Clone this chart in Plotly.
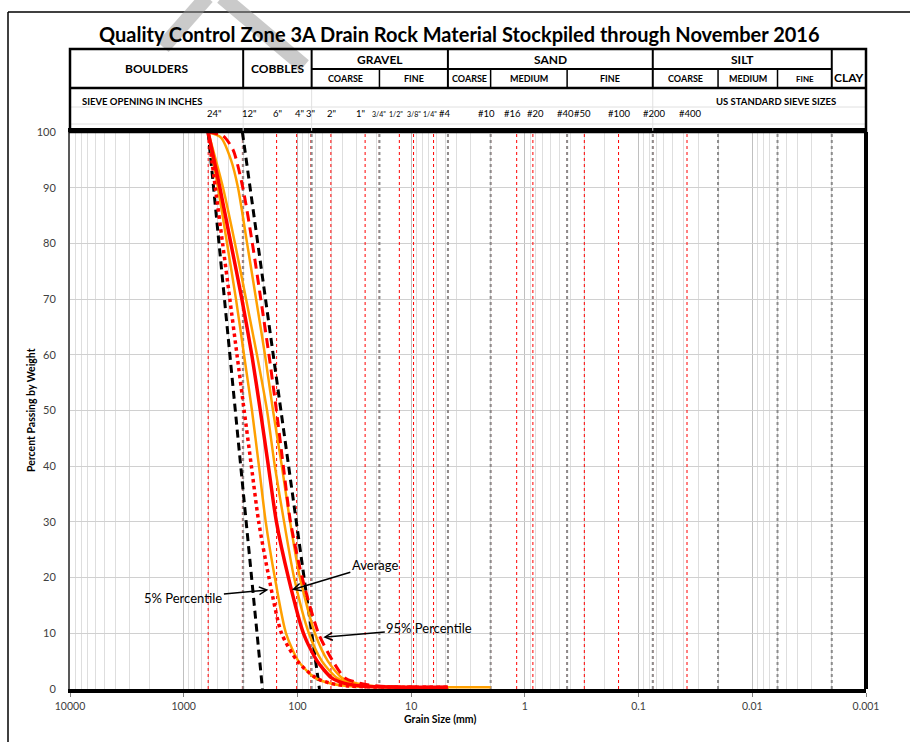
import numpy as np
import plotly.graph_objects as go

# ---------------- DATA ----------------
# US standard sieve openings (mm) and their header labels
sieve_mm = [609.6, 304.8, 152.4, 101.6, 76.2, 50.8, 25.4, 19.05, 12.7, 9.525, 6.35,
            4.75, 2.0, 1.18, 0.85, 0.425, 0.3, 0.15, 0.075, 0.0375]
sieve_labels = ['24"', '12"', '6"', '4"', '3"', '2"', '1"', '3/4"', '1/2"', '3/8"', '1/4"',
                '#4', '#10', '#16', '#20', '#40', '#50', '#100', '#200', '#400']

# soil-class boundaries (mm)
boundary_mm = [300, 75, 19, 4.75, 2.0, 0.425, 0.075, 0.02, 0.006, 0.002]

# x-axis decade ticks
decade_vals = [10000, 1000, 100, 10, 1, 0.1, 0.01, 0.001]
decade_labels = ['10000', '1000', '100', '10', '1', '0.1', '0.01', '0.001']

# specification envelope (black dashed)
env_coarse_mm = [609.6, 203]
env_coarse_pct = [100, 0]
env_fine_mm = [304.8, 64]
env_fine_pct = [100, 0]

# gradation curves: percent passing vs grain size (mm)
pct_std = [100, 90, 80, 70, 60, 50, 40, 30, 20, 10, 5, 2, 1, 0.5, 0.3]
avg_mm = [609.6, 481, 385, 308, 252, 212, 180, 153, 120, 88.5, 67, 50, 38.5, 26.0, 4.75]
p5_mm = [609.6, 527, 455, 393, 340, 294, 254, 219, 178, 138, 100, 68.8, 50.8, 33.9, 4.75]

pct_p95 = [100, 99.3, 96.8, 90, 80, 70, 60, 50, 40, 30, 20, 10, 5, 2, 1, 0.5, 0.3]
p95_mm = [609.6, 451, 368, 302, 249, 210, 178, 153, 133, 115, 90.8, 65.3, 48.8, 38.3, 27.7, 18.5, 4.75]

pct_s1 = [100, 90, 80, 70, 60, 50, 40, 30, 20, 10, 5, 2, 1, 0.5, 0.3]
s1_mm = [609.6, 499, 416, 347, 295, 251, 218, 190, 158, 126, 98, 70, 50.8, 33.9, 4.75]

pct_s2 = [100, 90, 80, 70, 60, 50, 40, 30, 20, 10, 5, 2, 1, 0.5, 0.3]
s2_mm = [609.6, 451, 354, 283, 227, 185, 158, 131, 107, 79.3, 60.9, 45.0, 33.9, 22.6, 2.0]

pct_s3 = [100, 99, 95, 90, 80, 70, 60, 50, 40, 30, 20, 10, 5, 2, 1, 0.5, 0.3]
s3_mm = [609.6, 470, 384, 333, 277, 231, 193, 164, 137, 116, 95.1, 70.2, 54.0, 40.6, 30.0, 20.5, 4.75]

# ---------------- LAYOUT HELPERS ----------------
W, H = 910, 742
L, R, T, B = 70, 44, 132, 53
PW, PH = W - L - R, H - T - B
LOG_MAX, LOG_MIN = 4.0, -3.0

# horizontal nudges (px) of the sieve captions relative to their sieve line
label_nudge_px = [6, 7, 1, 3, 0, 1, -5, 0, -3, 0, -4, -3, -4, -4, 3, -2, -2, 1, 2, 3]


def xp(px):  # pixel -> paper x
    return (px - L) / PW


def yp(py):  # pixel -> paper y
    return (H - B - py) / PH


def xv(v):  # data value -> paper x (reversed log axis)
    return (LOG_MAX - np.log10(v)) / (LOG_MAX - LOG_MIN)


FONT = 'Lato'
fig = go.Figure()

# sieve lines (red dashed)
for s in sieve_mm:
    fig.add_trace(go.Scatter(x=[s, s], y=[0, 100], mode='lines',
                             line=dict(color='#ff0000', width=1, dash='3px,3px'),
                             hoverinfo='skip'))
# class boundaries (grey dotted)
for b in boundary_mm:
    fig.add_trace(go.Scatter(x=[b, b], y=[0, 100], mode='lines',
                             line=dict(color='#8c8c8c', width=2, dash='dot'),
                             hoverinfo='skip'))

# envelope
for xs, ys in [(env_coarse_mm, env_coarse_pct), (env_fine_mm, env_fine_pct)]:
    fig.add_trace(go.Scatter(x=xs, y=ys, mode='lines',
                             line=dict(color='black', width=3, dash='8px,5px')))

ORANGE = '#ffa000'
for xs, ys in [(s1_mm, pct_s1), (s2_mm, pct_s2), (s3_mm, pct_s3)]:
    fig.add_trace(go.Scatter(x=xs, y=ys, mode='lines',
                             line=dict(color=ORANGE, width=2.5, shape='spline', smoothing=0.7)))

fig.add_trace(go.Scatter(x=p5_mm, y=pct_std, mode='lines',
                         line=dict(color='#ff0000', width=3.5, dash='dot', shape='spline', smoothing=0.7)))
fig.add_trace(go.Scatter(x=p95_mm, y=pct_p95, mode='lines',
                         line=dict(color='#ff0000', width=3, dash='10px,6px', shape='spline', smoothing=0.7)))
fig.add_trace(go.Scatter(x=avg_mm, y=pct_std, mode='lines',
                         line=dict(color='#ff0000', width=3.5, shape='spline', smoothing=0.7)))

shapes = []
ann = []

# outer frame of the sheet
shapes.append(dict(type='line', xref='paper', yref='paper', x0=xp(8), x1=xp(912), y0=yp(12), y1=yp(12),
                   line=dict(color='black', width=1.5)))
shapes.append(dict(type='line', xref='paper', yref='paper', x0=xp(8), x1=xp(8), y0=yp(12), y1=yp(745),
                   line=dict(color='black', width=1.5)))

# watermark strokes (semi-transparent, drawn over the sheet)
for (a, b_, c, d) in [(163, 47, 207, -3), (222, -3, 304, 66)]:
    shapes.append(dict(type='line', xref='paper', yref='paper', x0=xp(a), y0=yp(b_), x1=xp(c), y1=yp(d),
                       line=dict(color='rgba(150,150,150,0.5)', width=15), layer='above'))

# faint spreadsheet cell lines in the header
for py in [107, 124]:
    shapes.append(dict(type='line', xref='paper', yref='paper', x0=0, x1=1, y0=yp(py), y1=yp(py),
                       line=dict(color='#e0e0e0', width=1)))
for b in [300, 75, 0.075]:
    shapes.append(dict(type='line', xref='paper', yref='paper', x0=xv(b), x1=xv(b), y0=yp(88), y1=yp(132),
                       line=dict(color='#e0e0e0', width=1)))

# header box
TOP, MID, SUB, BOT = 49, 69, 88, 132
shapes.append(dict(type='rect', xref='paper', yref='paper', x0=0, x1=1, y0=yp(BOT), y1=yp(TOP),
                   line=dict(color='black', width=2.5)))
shapes.append(dict(type='line', xref='paper', yref='paper', x0=0, x1=1, y0=yp(SUB), y1=yp(SUB),
                   line=dict(color='black', width=2.5)))
shapes.append(dict(type='line', xref='paper', yref='paper', x0=xv(75), x1=xv(0.002), y0=yp(MID), y1=yp(MID),
                   line=dict(color='black', width=2)))
for b in [300, 75, 4.75, 0.075, 0.002]:
    shapes.append(dict(type='line', xref='paper', yref='paper', x0=xv(b), x1=xv(b), y0=yp(SUB), y1=yp(TOP),
                       line=dict(color='black', width=2)))
for b in [19, 2.0, 0.425, 0.02, 0.006]:
    shapes.append(dict(type='line', xref='paper', yref='paper', x0=xv(b), x1=xv(b), y0=yp(SUB), y1=yp(MID),
                       line=dict(color='black', width=1.5)))

# right border of plot
shapes.append(dict(type='line', xref='paper', yref='paper', x0=1, x1=1, y0=0, y1=1,
                   line=dict(color='black', width=4)))


def hdr(text, lo, hi, py, size, bold=True):
    cx = (xv(lo) + xv(hi)) / 2
    t = '<b>%s</b>' % text if bold else text
    ann.append(dict(text=t, xref='paper', yref='paper', x=cx, y=yp(py), showarrow=False,
                    font=dict(family=FONT, size=size, color='black'), xanchor='center', yanchor='middle'))


hdr('BOULDERS', 10000, 300, 68, 12)
hdr('COBBLES', 300, 75, 68, 12)
hdr('GRAVEL', 75, 4.75, 59, 12)
hdr('SAND', 4.75, 0.075, 59, 12)
hdr('SILT', 0.075, 0.002, 59, 12)
hdr('CLAY', 0.002, 0.001, 78, 12)
hdr('COARSE', 75, 19, 79, 9)
hdr('FINE', 19, 4.75, 79, 9)
hdr('COARSE', 4.75, 2.0, 79, 9)
hdr('MEDIUM', 2.0, 0.425, 79, 9)
hdr('FINE', 0.425, 0.075, 79, 9)
hdr('COARSE', 0.075, 0.02, 79, 9)
hdr('MEDIUM', 0.02, 0.006, 79, 9)
hdr('FINE', 0.006, 0.002, 79, 8)

ann.append(dict(text='<b>SIEVE OPENING IN INCHES</b>', xref='paper', yref='paper', x=xp(80), y=yp(101),
                showarrow=False, xanchor='left', yanchor='middle', font=dict(family=FONT, size=9.5, color='black')))
ann.append(dict(text='<b>US STANDARD SIEVE SIZES</b>', xref='paper', yref='paper', x=xp(838), y=yp(101),
                showarrow=False, xanchor='right', yanchor='middle', font=dict(family=FONT, size=9.5, color='black')))

for s, lab, nud in zip(sieve_mm, sieve_labels, label_nudge_px):
    small = '/' in lab
    ann.append(dict(text=lab, xref='x', yref='paper', x=np.log10(s), y=yp(114 if small else 113),
                    showarrow=False, xanchor='center', yanchor='middle', xshift=nud,
                    font=dict(family=FONT, size=7 if small else 9.5, color='black')))

# title
ann.append(dict(text='<b>Quality Control Zone 3A Drain Rock Material Stockpiled through November 2016</b>',
                xref='paper', yref='paper', x=xp(459), y=yp(34), showarrow=False,
                xanchor='center', yanchor='middle', font=dict(family=FONT, size=20, color='black')))
# axis titles
ann.append(dict(text='<b>Grain Size (mm)</b>', xref='paper', yref='paper', x=xp(440), y=yp(719),
                showarrow=False, xanchor='center', yanchor='middle', font=dict(family=FONT, size=10.5, color='black')))
ann.append(dict(text='<b>Percent Passing by Weight</b>', xref='paper', yref='paper', x=xp(31), y=yp(410),
                showarrow=False, xanchor='center', yanchor='middle', textangle=-90,
                font=dict(family=FONT, size=10.5, color='black')))

# curve call-outs
for text, head_mm, head_pct, axp, ayp in [('Average', 112, 17.8, 83, -25),
                                          ('5% Percentile', 180, 17.8, -85, 8),
                                          ('95% Percentile', 59.2, 9.3, 106, -9)]:
    ann.append(dict(text=text, xref='x', yref='y', x=np.log10(head_mm), y=head_pct, ax=axp, ay=ayp,
                    showarrow=True, arrowhead=5, arrowsize=1, arrowwidth=1.5, arrowcolor='black',
                    font=dict(family=FONT, size=13, color='black')))

fig.update_layout(
    width=W, height=H, margin=dict(l=L, r=R, t=T, b=B),
    paper_bgcolor='white', plot_bgcolor='white', showlegend=False,
    font=dict(family=FONT, size=10, color='#404040'),
    shapes=shapes, annotations=ann,
    xaxis=dict(type='log', range=[LOG_MAX, LOG_MIN], tickmode='array', tickvals=decade_vals,
               ticktext=decade_labels, showgrid=True, gridcolor='#c0c0c0', gridwidth=1,
               minor=dict(showgrid=True, gridcolor='#dedede', gridwidth=1, dtick='D1'),
               showline=True, linecolor='black', linewidth=4, mirror=True,
               ticks='outside', ticklen=4, tickcolor='#808080', zeroline=False,
               tickfont=dict(family=FONT, size=10.5, color='#404040')),
    yaxis=dict(range=[0, 100], dtick=10, showgrid=True, gridcolor='#d0d0d0', gridwidth=1,
               showline=True, linecolor='#595959', linewidth=2, zeroline=False, ticks='',
               ticklabelstandoff=10,
               tickfont=dict(family=FONT, size=11, color='#404040')),
)

fig.write_html('out.html')
